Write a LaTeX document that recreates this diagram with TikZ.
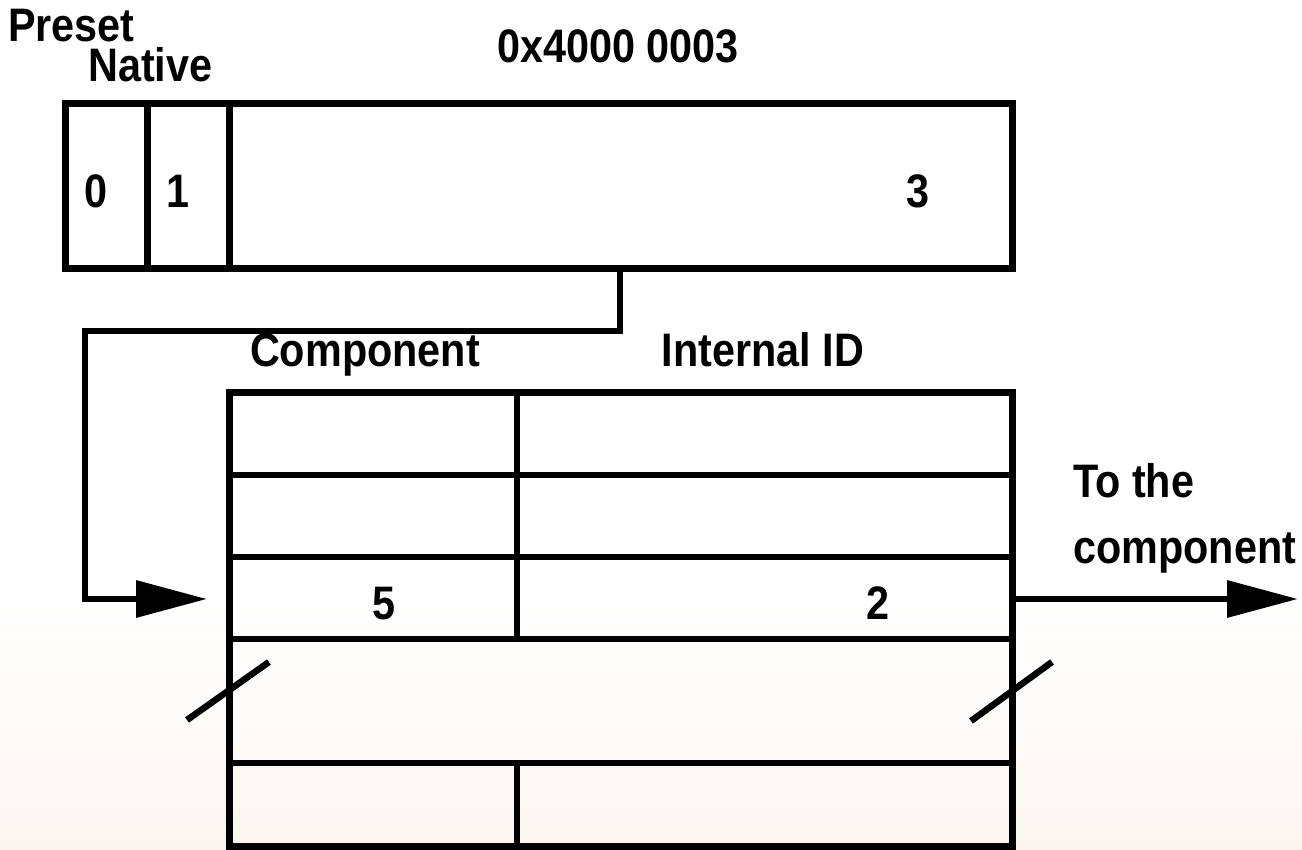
\documentclass[tikz,border=0pt]{standalone}
\usepackage{fontspec}
\setmainfont{Liberation Sans}[FakeStretch=0.88]
\usetikzlibrary{arrows.meta}

\tikzset{
  lbl/.style={inner sep=0pt, font=\fontsize{47}{50}\selectfont\bfseries},
  frame/.style={draw=black, line width=7pt, minimum width=0pt, minimum height=0pt, inner sep=0pt},
  rule/.style={draw=black, line width=6.5pt},
  divider/.style={draw=black, line width=5.5pt},
  link/.style={draw=black, line width=6.5pt, line join=miter},
  flow/.style={link, -{Triangle[length=71pt,width=36pt]}},
  breakmark/.style={draw=black, line width=6.5pt}
}

\begin{document}
\begin{tikzpicture}[x=1pt, y=-1pt]
  % page and faint warm wash near the bottom
  \useasboundingbox (0,0) rectangle (1302,850);
  \fill[white] (0,0) rectangle (1302,600);
  \shade[top color=white, bottom color={rgb,255:red,251;green,246;blue,240}] (0,600) rectangle (1302,850);

  % identifier word
  \node[frame, minimum width=947pt, minimum height=165pt] (reg) at (538.5,186.5) {};
  \draw[divider, line width=7pt] (147,104) -- (147,269);
  \draw[divider, line width=7pt] (229,104) -- (229,269);

  \node[lbl, anchor=base west] (preset) at (8,42) {Preset};
  \node[lbl, anchor=base west] (native) at (88,82) {Native};
  \node[lbl, anchor=base] (hexid) at (618,63) {0x4000 0003};
  \node[lbl, anchor=base] (f0) at (96,208) {0};
  \node[lbl, anchor=base] (f1) at (178,208) {1};
  \node[lbl, anchor=base] (f3) at (918,208) {3};

  % component table
  \node[frame, minimum width=783pt, minimum height=453pt] (tbl) at (620.5,619.5) {};
  \draw[rule] (tbl.west |- 0,475) -- (tbl.east |- 0,475);
  \draw[rule] (tbl.west |- 0,557) -- (tbl.east |- 0,557);
  \draw[rule] (tbl.west |- 0,639) -- (tbl.east |- 0,639);
  \draw[rule] (tbl.west |- 0,763) -- (tbl.east |- 0,763);
  \draw[divider] (517,393) -- (517,639);
  \draw[divider] (517,763) -- (517,846);

  \node[lbl, anchor=base] (hcomp) at (365,367) {Component};
  \node[lbl, anchor=base] (hint) at (763,367) {Internal ID};
  \node[lbl, anchor=base] (c5) at (384,619) {5};
  \node[lbl, anchor=base] (c2) at (878,619) {2};

  % break marks on the elided rows
  \draw[breakmark] (187,720) -- (269,662);
  \draw[breakmark] (971,721) -- (1052,662);

  % index lookup path
  \coordinate (into) at (207,599);
  \coordinate (out) at (1298,599);
  \draw[flow] (reg.south -| 620,0) -- (620,331) -- (85,331) -- (85,599) -- (into);
  \draw[flow] (tbl.east |- 0,599) -- (out);

  \node[lbl, anchor=base west] (to1) at (1073,497) {To the};
  \node[lbl, anchor=base west] (to2) at (1073,563) {component};
\end{tikzpicture}
\end{document}
